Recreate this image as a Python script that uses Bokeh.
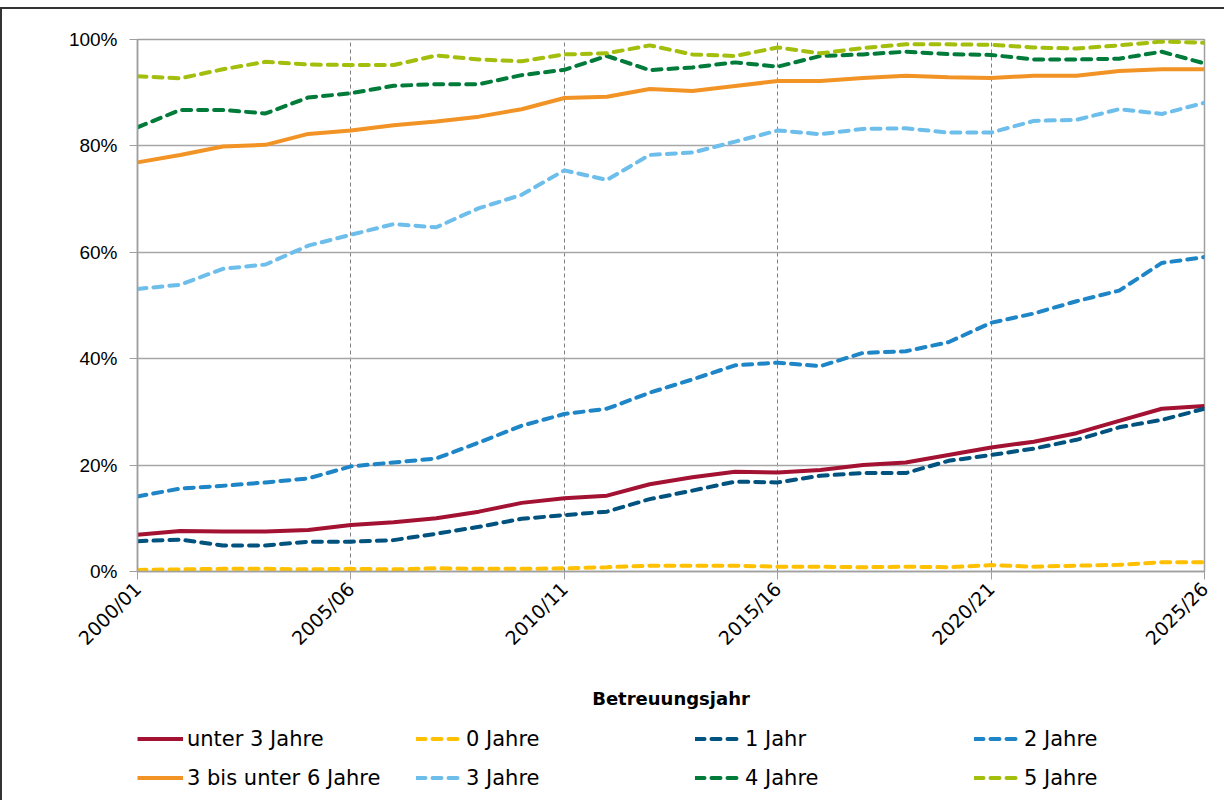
from bokeh.plotting import figure
from bokeh.layouts import column
from bokeh.models import FixedTicker, PrintfTickFormatter, Legend, LegendItem
from bokeh.embed import file_html
from bokeh.resources import INLINE
import math

years = ["2000/01", "2001/02", "2002/03", "2003/04", "2004/05", "2005/06", "2006/07",
         "2007/08", "2008/09", "2009/10", "2010/11", "2011/12", "2012/13", "2013/14",
         "2014/15", "2015/16", "2016/17", "2017/18", "2018/19", "2019/20", "2020/21",
         "2021/22", "2022/23", "2023/24", "2024/25", "2025/26"]

unter3 = [6.9, 7.6, 7.5, 7.5, 7.8, 8.75, 9.25, 10.0, 11.25, 12.9, 13.75, 14.25, 16.4, 17.7,
          18.75, 18.6, 19.1, 20.0, 20.5, 21.9, 23.3, 24.4, 26.0, 28.3, 30.6, 31.1]
j0 = [0.3, 0.4, 0.5, 0.5, 0.4, 0.5, 0.4, 0.6, 0.5, 0.5, 0.6, 0.8, 1.1, 1.1, 1.1, 0.9, 0.9,
      0.8, 0.9, 0.8, 1.2, 0.9, 1.1, 1.25, 1.75, 1.75]
j1 = [5.7, 6.0, 4.9, 4.9, 5.6, 5.6, 5.9, 7.1, 8.4, 9.9, 10.6, 11.25, 13.6, 15.2, 16.9, 16.75,
      18.0, 18.5, 18.5, 20.8, 21.9, 23.1, 24.75, 27.1, 28.5, 30.6]
j2 = [14.1, 15.6, 16.1, 16.75, 17.5, 19.75, 20.5, 21.25, 24.25, 27.4, 29.6, 30.6, 33.6, 36.1,
      38.75, 39.25, 38.6, 41.1, 41.4, 43.1, 46.75, 48.5, 50.8, 52.8, 58.0, 59.1]
u36 = [76.9, 78.3, 79.9, 80.2, 82.25, 82.9, 83.9, 84.6, 85.5, 86.9, 89.0, 89.25, 90.7, 90.3,
       91.25, 92.2, 92.2, 92.75, 93.2, 92.9, 92.75, 93.2, 93.2, 94.1, 94.4, 94.4]
j3 = [53.1, 53.9, 56.9, 57.7, 61.25, 63.3, 65.3, 64.7, 68.3, 70.8, 75.4, 73.6, 78.3, 78.75,
      80.8, 82.9, 82.2, 83.2, 83.3, 82.5, 82.5, 84.7, 84.9, 86.9, 86.0, 88.1]
j4 = [83.5, 86.75, 86.75, 86.1, 89.1, 89.9, 91.3, 91.6, 91.6, 93.3, 94.3, 96.9, 94.25, 94.75,
      95.7, 94.9, 96.9, 97.2, 97.7, 97.25, 97.1, 96.25, 96.25, 96.4, 97.7, 95.5]
j5 = [93.1, 92.7, 94.4, 95.8, 95.3, 95.2, 95.2, 97.0, 96.25, 95.9, 97.2, 97.4, 98.9, 97.2,
      96.9, 98.5, 97.4, 98.4, 99.1, 99.1, 99.0, 98.5, 98.3, 98.9, 99.6, 99.4]

series_names = ["unter 3 Jahre", "0 Jahre", "1 Jahr", "2 Jahre",
                "3 bis unter 6 Jahre", "3 Jahre", "4 Jahre", "5 Jahre"]
series_values = [unter3, j0, j1, j2, u36, j3, j4, j5]
series_colors = ["#A31232", "#FFC000", "#00527F", "#1E85C6",
                 "#F29326", "#6DBEEB", "#007B3A", "#A3BE0C"]
series_dashed = [False, True, True, True, False, True, True, True]

x_label_ticks = [0, 5, 10, 15, 20, 25]
y_ticks = [0, 20, 40, 60, 80, 100]

x = list(range(len(years)))


def add_series(fig, visible=True):
    rs = []
    for vals, col, dashed in zip(series_values, series_colors, series_dashed):
        if dashed:
            r = fig.line(x, vals, line_color=col, line_width=4, line_dash="9 7",
                         line_cap="round", visible=visible)
        else:
            r = fig.line(x, vals, line_color=col, line_width=4, visible=visible)
        rs.append(r)
    return rs


# ---------------- main chart ----------------
p = figure(frame_width=1067, frame_height=532, output_backend="svg", toolbar_location=None,
           x_range=(0, len(years) - 1), y_range=(0, 100),
           min_border_left=135, min_border_right=20, min_border_top=30, min_border_bottom=137)
p.background_fill_color = "white"
p.border_fill_color = "white"
p.outline_line_color = "#A0A0A0"
p.outline_line_width = 1.5

p.ygrid.ticker = FixedTicker(ticks=y_ticks)
p.ygrid.grid_line_color = "#A6A6A6"
p.ygrid.grid_line_width = 1.5
p.xgrid.ticker = FixedTicker(ticks=[5, 10, 15, 20])
p.xgrid.grid_line_color = "#808080"
p.xgrid.grid_line_dash = "4 3"
p.xgrid.grid_line_width = 1

p.yaxis.ticker = FixedTicker(ticks=y_ticks)
p.yaxis.formatter = PrintfTickFormatter(format="%d%%")
p.yaxis.major_label_text_font = "Liberation Sans"
p.yaxis.major_label_text_font_size = "19px"
p.yaxis.major_label_text_color = "black"
p.yaxis.major_label_standoff = 12
p.yaxis.axis_line_color = "#A0A0A0"
p.yaxis.axis_line_width = 1.5
p.yaxis.major_tick_line_color = "#A0A0A0"
p.yaxis.major_tick_out = 8
p.yaxis.major_tick_in = 0
p.yaxis.minor_tick_line_color = None

p.xaxis.ticker = FixedTicker(ticks=x_label_ticks)
p.xaxis.major_label_overrides = {t: years[t] for t in x_label_ticks}
p.xaxis.major_label_orientation = math.pi / 4
p.xaxis.major_label_text_font = "DejaVu Sans"
p.xaxis.major_label_text_font_size = "19px"
p.xaxis.major_label_text_color = "black"
p.xaxis.major_label_standoff = 6
p.xaxis.axis_line_color = "#A0A0A0"
p.xaxis.axis_line_width = 1.5
p.xaxis.major_tick_line_color = "#A0A0A0"
p.xaxis.major_tick_out = 8
p.xaxis.major_tick_in = 0
p.xaxis.minor_tick_line_color = None
p.xaxis.axis_label = "Betreuungsjahr"
p.xaxis.axis_label_text_font = "DejaVu Sans"
p.xaxis.axis_label_text_font_style = "bold"
p.xaxis.axis_label_text_font_size = "18px"
p.xaxis.axis_label_text_color = "black"
p.xaxis.axis_label_standoff = 28

add_series(p)

# ---------------- legend strip ----------------
lf = figure(width=1222, height=89, output_backend="svg", toolbar_location=None,
            x_axis_location=None, y_axis_location=None,
            x_range=(0, len(years) - 1), y_range=(0, 100),
            min_border_left=0, min_border_right=0, min_border_top=0, min_border_bottom=0)
lf.outline_line_color = None
lf.grid.visible = False
lf.background_fill_color = "white"
lf.border_fill_color = "white"
lrs = add_series(lf, visible=False)

items = [LegendItem(label=n, renderers=[r]) for n, r in zip(series_names, lrs)]
lg = Legend(items=items, location=(0, 3), orientation="horizontal", ncols=4,
            glyph_width=46, glyph_height=39, label_height=39, label_width=229,
            label_standoff=4, spacing=0, padding=0, margin=0,
            label_text_font="DejaVu Sans", label_text_font_size="21px",
            label_text_color="black", border_line_color=None,
            background_fill_alpha=0)
lf.add_layout(lg, "center")

layout = column(p, lf, spacing=0)
layout.styles = {"border-top": "2px solid #333333", "border-left": "2px solid #333333",
                 "margin-top": "7px"}

open("out.html", "w").write(file_html(layout, INLINE))
